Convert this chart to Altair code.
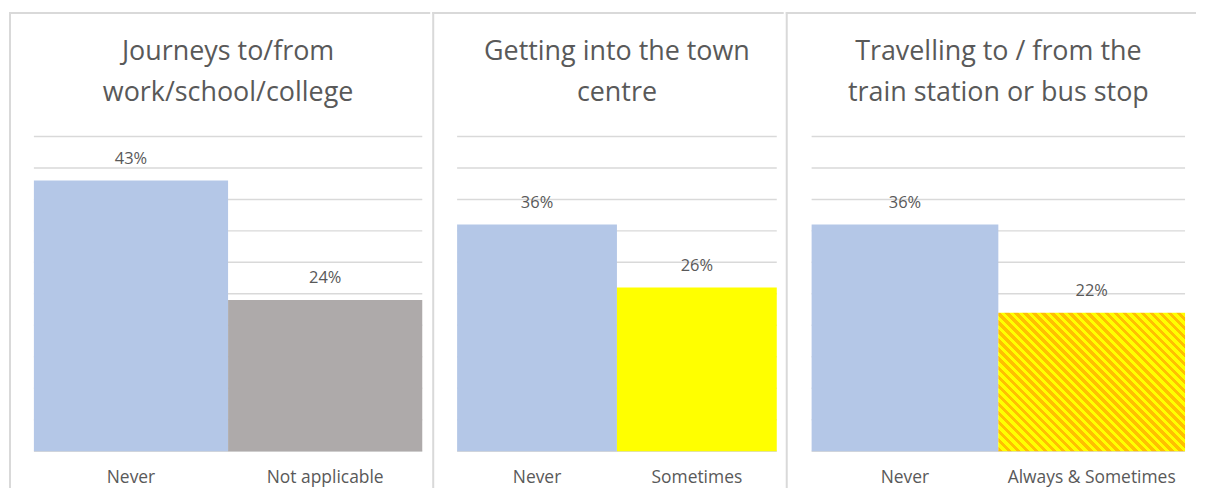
import altair as alt
import pandas as pd

# ---- data ----
titles = [
    ["Journeys to/from", "work/school/college"],
    ["Getting into the town", "centre"],
    ["Travelling to / from the", "train station or bus stop"],
]
categories = [
    ["Never", "Not applicable"],
    ["Never", "Sometimes"],
    ["Never", "Always & Sometimes"],
]
values = [
    [43, 24],
    [36, 26],
    [36, 22],
]
grid_values = [0, 5, 10, 15, 20, 25, 30, 35, 40, 45, 50]

# ---- styles ----
BLUE = "#B4C7E7"
GREY = "#AEAAAA"
YELLOW = "#FFFF00"
ORANGE = "#FFC000"
TEXT = "#595959"
BORDER = "#D9D9D9"
FONT = "Open Sans"

panel_widths = [423, 353, 412]
bar_ranges = [(25, 415), (25, 346), (26, 401)]
H = 478
Y_RANGE = [441, 125]
bar_fills = [[BLUE, GREY], [BLUE, YELLOW], [BLUE, "hatch"]]


def hatch_gradient(w, h, periods=36):
    r = h / w
    k = (1 + r) / (1 + r * r)
    stops = []
    for i in range(periods):
        a = i / periods
        m = (i + 0.5) / periods
        b = (i + 1) / periods
        stops += [
            {"offset": a, "color": ORANGE},
            {"offset": m, "color": ORANGE},
            {"offset": m, "color": YELLOW},
            {"offset": b, "color": YELLOW},
        ]
    return {
        "gradient": "linear",
        "x1": 0, "y1": 1, "x2": k, "y2": 1 - k * r,
        "stops": stops,
    }


def make_panel(i):
    cats = categories[i]
    vals = values[i]
    W = panel_widths[i]
    l, r = bar_ranges[i]
    df = pd.DataFrame({"cat": cats, "val": vals, "fill": bar_fills[i]})
    xs = alt.X("cat:N", sort=cats,
               scale=alt.Scale(range=[l, r], paddingInner=0, paddingOuter=0),
               axis=None)
    ysc = alt.Scale(domain=[0, 50], range=Y_RANGE)

    grid = alt.Chart(pd.DataFrame({"g": grid_values})).mark_rule(
        color=BORDER, strokeWidth=1.5
    ).encode(
        x=alt.value(l), x2=alt.value(r),
        y=alt.Y("g:Q", scale=ysc, axis=None),
    )

    layers = [grid]
    solid = df[df["fill"] != "hatch"]
    layers.append(
        alt.Chart(solid).mark_bar().encode(
            x=xs,
            y=alt.Y("val:Q", scale=ysc, axis=None, stack=None),
            color=alt.Color("fill:N", scale=None, legend=None),
        )
    )
    hatched = df[df["fill"] == "hatch"]
    if len(hatched):
        bw = (r - l) / len(cats)
        bh = float(hatched["val"].iloc[0]) * (Y_RANGE[0] - Y_RANGE[1]) / 50
        layers.append(
            alt.Chart(hatched).mark_bar(color=hatch_gradient(bw, bh)).encode(
                x=xs,
                y=alt.Y("val:Q", scale=ysc, axis=None, stack=None),
            )
        )

    layers.append(
        alt.Chart(df).transform_calculate(
            label="datum.val + '%'"
        ).mark_text(
            font=FONT, fontSize=16.5, color=TEXT, baseline="middle", dy=-22
        ).encode(
            x=xs,
            y=alt.Y("val:Q", scale=ysc, axis=None),
            text="label:N",
        )
    )
    layers.append(
        alt.Chart(df).mark_text(
            font=FONT, fontSize=17.5, color=TEXT, baseline="middle"
        ).encode(
            x=xs, y=alt.value(468), text="cat:N",
        )
    )
    cx = (l + r) / 2
    for line, ypos in zip(titles[i], [40, 81]):
        layers.append(
            alt.Chart(pd.DataFrame({"t": [line]})).mark_text(
                font=FONT, fontSize=27, color=TEXT, baseline="middle", align="center"
            ).encode(x=alt.value(cx), y=alt.value(ypos), text="t:N")
        )
    # panel borders (top and left)
    dummy = pd.DataFrame({"d": [0]})
    layers.append(
        alt.Chart(dummy).mark_rule(color=BORDER, strokeWidth=2).encode(
            x=alt.value(0), x2=alt.value(W), y=alt.value(1)
        )
    )
    layers.append(
        alt.Chart(dummy).mark_rule(color=BORDER, strokeWidth=2).encode(
            x=alt.value(1), y=alt.value(0), y2=alt.value(H)
        )
    )
    return alt.layer(*layers).properties(width=W, height=H)


chart = alt.hconcat(*[make_panel(i) for i in range(3)], spacing=0).properties(
    padding={"left": 0, "top": 2, "right": 0, "bottom": 0}
).configure_view(stroke=None).configure_concat(spacing=0)

chart.save("out.html", embed_options={"renderer": "svg", "actions": False})
